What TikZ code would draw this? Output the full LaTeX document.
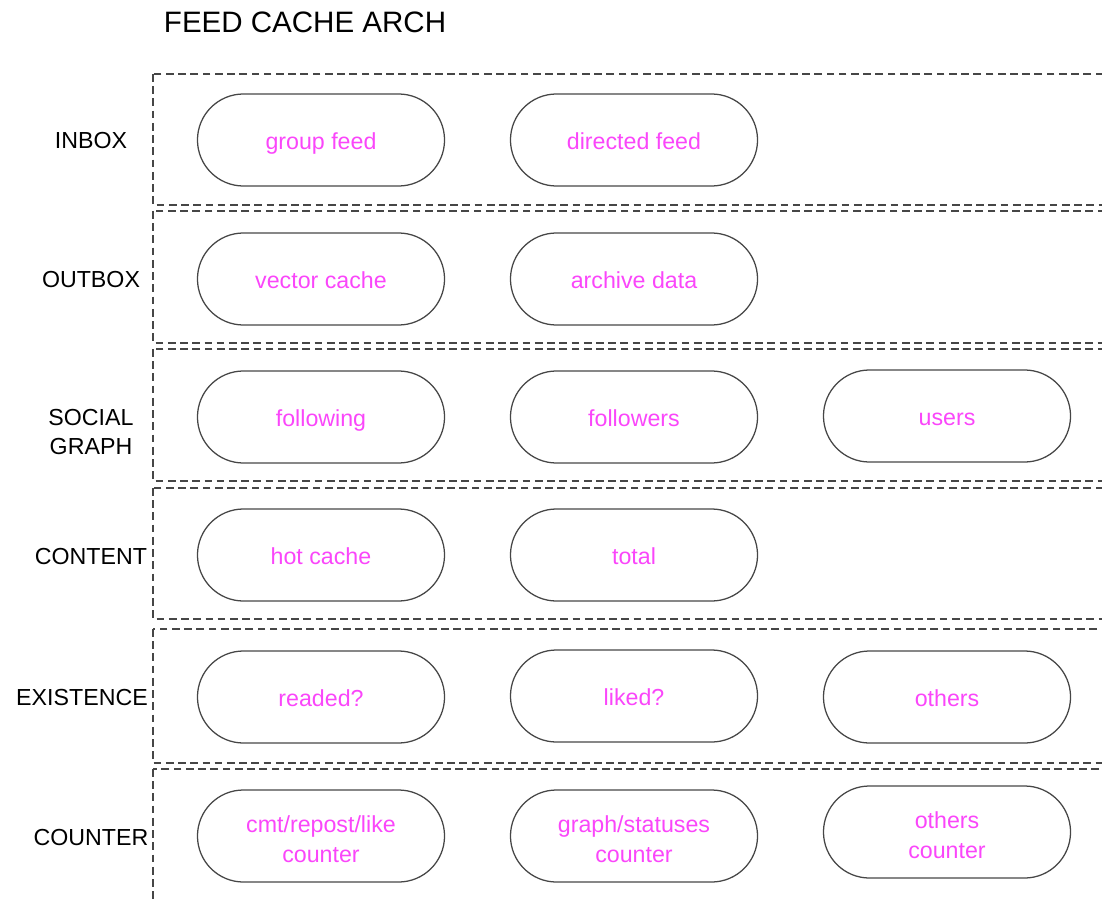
\documentclass[tikz,border=0pt]{standalone}
\usepackage{fontspec}
\setmainfont{Liberation Sans}
\usepackage{tikz}

\definecolor{pinktext}{RGB}{250,70,250}
\definecolor{linegray}{RGB}{70,70,70}

\begin{document}
\begin{tikzpicture}[x=0.025cm,y=-0.025cm,
	row/.style={draw=linegray,line width=1.1pt,dash pattern=on 5.5pt off 3.2pt},
	pill/.style={draw=linegray,line width=0.9pt,rectangle,rounded corners=1.15cm,
		minimum width=6.175cm,minimum height=2.3cm,text=pinktext,
		text height=14pt,text depth=0.2pt,
		font=\fontsize{16.5}{21}\selectfont,align=center},
	twopill/.style={pill,text height=37pt,text depth=0pt},
	layer/.style={font=\fontsize{16.5}{20}\selectfont,align=center}]
\useasboundingbox (0,0) rectangle (1102,899);
\clip (0,0) rectangle (1102,899);
\node[anchor=west,font=\fontsize{21}{25}\selectfont] (title) at (159,22) {FEED CACHE ARCH};

% layers
\draw[row] (153,74) rectangle (1115,205);
\draw[row] (153,211) rectangle (1115,343);
\draw[row] (153,349) rectangle (1115,481);
\draw[row] (153,488) rectangle (1115,619);
\draw[row] (153,629) rectangle (1115,763);
\draw[row] (153,769) rectangle (1115,910);

\node[layer] (inbox) at (91,141) {INBOX};
\node[layer] (outbox) at (91,280) {OUTBOX};
\node[layer] (social) at (91,432) {SOCIAL\\GRAPH};
\node[layer] (content) at (91,557) {CONTENT};
\node[layer] (existence) at (82,698) {EXISTENCE};
\node[layer] (counter) at (91,838) {COUNTER};

% caches
\node[pill] (group) at (321,140) {group feed};
\node[pill] (directed) at (634,140) {directed feed};
\node[pill] (vector) at (321,279) {vector cache};
\node[pill] (archive) at (634,279) {archive data};
\node[pill] (following) at (321,417) {following};
\node[pill] (followers) at (634,417) {followers};
\node[pill] (users) at (947,416) {users};
\node[pill] (hot) at (321,555) {hot cache};
\node[pill] (total) at (634,555) {total};
\node[pill] (readed) at (321,697) {readed?};
\node[pill] (liked) at (634,696) {liked?};
\node[pill] (others) at (947,697) {others};
\node[twopill] (cmt) at (321,836) {cmt/repost/like\\counter};
\node[twopill] (graph) at (634,836) {graph/statuses\\counter};
\node[twopill] (otherscnt) at (947,832) {others\\counter};
\end{tikzpicture}
\end{document}
